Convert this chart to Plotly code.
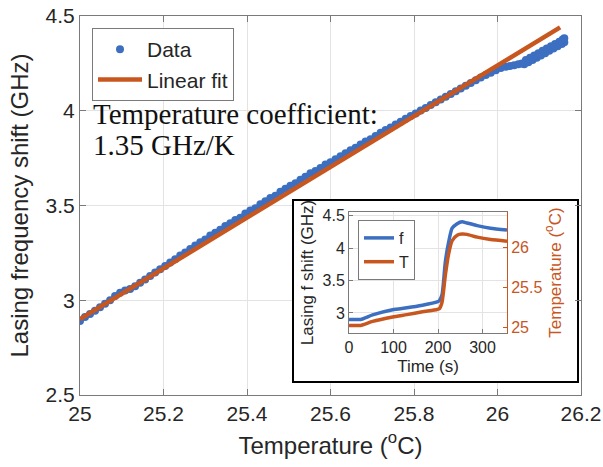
import plotly.graph_objects as go

# ---------------- data ----------------
temp_C = [25.000, 25.012, 25.024, 25.036, 25.048, 25.060, 25.072, 25.084, 25.096, 25.108,
          25.120, 25.132, 25.144, 25.156, 25.168, 25.180, 25.192, 25.204, 25.216, 25.228,
          25.240, 25.252, 25.264, 25.276, 25.288, 25.300, 25.312, 25.324, 25.336, 25.348,
          25.360, 25.372, 25.384, 25.396, 25.408, 25.420, 25.432, 25.444, 25.456, 25.468,
          25.480, 25.492, 25.504, 25.516, 25.528, 25.540, 25.552, 25.564, 25.576, 25.588,
          25.600, 25.612, 25.624, 25.636, 25.648, 25.660, 25.672, 25.684, 25.696, 25.708,
          25.720, 25.732, 25.744, 25.756, 25.768, 25.780, 25.792, 25.804, 25.816, 25.828,
          25.840, 25.852, 25.864, 25.876, 25.888, 25.900, 25.912, 25.924, 25.936, 25.948,
          25.960, 25.972, 25.984, 25.996, 26.008,
          26.020, 26.030, 26.040, 26.050, 26.058,
          26.064, 26.074, 26.084, 26.094, 26.104, 26.114, 26.124, 26.134, 26.144, 26.154, 26.160,
          26.068, 26.078, 26.088, 26.098, 26.108, 26.118, 26.128, 26.138, 26.148, 26.156, 26.160]
shift_GHz = [2.890, 2.911, 2.928, 2.945, 2.963, 2.982, 3.000, 3.022, 3.040, 3.052,
             3.060, 3.074, 3.092, 3.110, 3.128, 3.146, 3.163, 3.181, 3.199, 3.217,
             3.236, 3.252, 3.270, 3.289, 3.306, 3.320, 3.342, 3.356, 3.372, 3.392,
             3.406, 3.424, 3.436, 3.458, 3.474, 3.486, 3.506, 3.522, 3.540, 3.552,
             3.572, 3.588, 3.604, 3.618, 3.636, 3.652, 3.670, 3.682, 3.698, 3.716,
             3.728, 3.744, 3.760, 3.776, 3.792, 3.805, 3.822, 3.838, 3.850, 3.867,
             3.884, 3.898, 3.912, 3.928, 3.942, 3.958, 3.972, 3.986, 4.001, 4.015,
             4.030, 4.045, 4.060, 4.074, 4.088, 4.103, 4.118, 4.132, 4.147, 4.161,
             4.175, 4.188, 4.201, 4.214, 4.225,
             4.232, 4.236, 4.240, 4.246, 4.250,
             4.245, 4.256, 4.268, 4.280, 4.292, 4.304, 4.316, 4.328, 4.340, 4.352, 4.362,
             4.268, 4.280, 4.292, 4.304, 4.316, 4.328, 4.340, 4.352, 4.364, 4.376, 4.382]

fit_T = [25.0, 26.15]
fit_f = [2.90, 4.44]

time_s = [0, 26, 53, 98, 130, 165, 198, 203, 209, 216.5, 224, 231.7, 243, 254, 265, 288, 318, 355]
f_time = [2.90, 2.90, 2.97, 3.05, 3.08, 3.12, 3.17, 3.19, 3.28, 3.79, 4.10, 4.31, 4.38, 4.41, 4.39, 4.35, 4.31, 4.28]
T_time = [25.02, 25.02, 25.07, 25.125, 25.155, 25.19, 25.22, 25.23, 25.31, 25.65, 25.92, 26.08, 26.15, 26.165, 26.16, 26.125, 26.095, 26.075]

x_ticks = [25, 25.2, 25.4, 25.6, 25.8, 26, 26.2]
x_ticklabels = ["25", "25.2", "25.4", "25.6", "25.8", "26", "26.2"]
y_ticks = [2.5, 3, 3.5, 4, 4.5]
y_ticklabels = ["2.5", "3", "3.5", "4", "4.5"]

BLUE = "#3D6FC1"
ORANGE = "#C7561F"
AX = "#7a7a7a"
TXT = "#262626"
GRID = "#e3e3e3"

X_RANGE = [25, 26.2]
Y_RANGE = [2.5, 4.5]

fig = go.Figure()

fig.add_trace(go.Scatter(x=temp_C, y=shift_GHz, mode="markers", name="Data",
                         marker=dict(color=BLUE, size=8, line=dict(width=0)),
                         xaxis="x", yaxis="y", legend="legend"))
fig.add_trace(go.Scatter(x=fit_T, y=fit_f, mode="lines", name="Linear fit",
                         line=dict(color=ORANGE, width=4.5),
                         xaxis="x", yaxis="y", legend="legend"))

fig.add_trace(go.Scatter(x=time_s, y=f_time, mode="lines", name="f",
                         line=dict(color=BLUE, width=3.5, shape="spline", smoothing=0.6),
                         xaxis="x2", yaxis="y2", legend="legend2"))
fig.add_trace(go.Scatter(x=time_s, y=T_time, mode="lines", name="T",
                         line=dict(color=ORANGE, width=3.5, shape="spline", smoothing=0.6),
                         xaxis="x2", yaxis="y3", legend="legend2"))

W, H = 603, 467
L, R, T, B = 80, 22, 16, 72
pw, ph = W - L - R, H - T - B

def px_x(p):
    return (p - L) / pw

def px_y(p):
    return (H - B - p) / ph

def dx(p):
    return X_RANGE[0] + px_x(p) * (X_RANGE[1] - X_RANGE[0])

def dy(p):
    return Y_RANGE[0] + px_y(p) * (Y_RANGE[1] - Y_RANGE[0])

fig.update_layout(
    width=W, height=H,
    margin=dict(l=L, r=R, t=T, b=B, pad=0, autoexpand=False),
    paper_bgcolor="white", plot_bgcolor="white",
    font=dict(family="Liberation Sans, Arial", color=TXT, size=21),
    xaxis=dict(domain=[0, 1], range=X_RANGE, tickvals=x_ticks, ticktext=x_ticklabels,
               showgrid=True, gridcolor=GRID, zeroline=False, automargin=False,
               showline=True, linecolor=AX, linewidth=1, mirror="ticks",
               ticks="inside", ticklen=6, tickcolor=AX, tickfont=dict(size=21, color=TXT),
               title=dict(text="Temperature (<sup>o</sup>C)", font=dict(size=24, color=TXT), standoff=12)),
    yaxis=dict(domain=[0, 1], range=Y_RANGE, tickvals=y_ticks, ticktext=y_ticklabels,
               showgrid=True, gridcolor=GRID, zeroline=False, automargin=False,
               showline=True, linecolor=AX, linewidth=1, mirror="ticks",
               ticks="inside", ticklen=6, tickcolor=AX, tickfont=dict(size=21, color=TXT),
               title=dict(text="Lasing frequency shift (GHz)", font=dict(size=24, color=TXT), standoff=10)),
    xaxis2=dict(domain=[px_x(349), px_x(507)], range=[0, 355], anchor="y2",
                tickvals=[0, 100, 200, 300], showgrid=True, gridcolor=GRID, zeroline=False,
                automargin=False,
                showline=True, linecolor=AX, linewidth=1, mirror=True,
                ticks="inside", ticklen=4, tickcolor=AX, tickfont=dict(size=16, color=TXT),
                title=dict(text="Time (s)", font=dict(size=17, color=TXT), standoff=4)),
    yaxis2=dict(domain=[px_y(333), px_y(212)], range=[2.69, 4.56], anchor="x2",
                tickvals=[3, 3.5, 4, 4.5], ticktext=["3", "3.5", "4", "4.5"],
                showgrid=True, gridcolor=GRID, zeroline=False, automargin=False,
                showline=True, linecolor=AX, linewidth=1,
                ticks="inside", ticklen=4, tickcolor=AX, tickfont=dict(size=16, color=TXT),
                title=dict(text="Lasing f shift (GHz)", font=dict(size=17, color=TXT), standoff=4)),
    yaxis3=dict(domain=[px_y(333), px_y(212)], range=[24.925, 26.44], anchor="x2",
                overlaying="y2", side="right", automargin=False,
                tickvals=[25, 25.5, 26], ticktext=["25", "25.5", "26"],
                showgrid=False, zeroline=False,
                showline=True, linecolor=ORANGE, linewidth=1,
                ticks="inside", ticklen=4, tickcolor=ORANGE, tickfont=dict(size=16, color=ORANGE),
                title=dict(text="Temperature (<sup>o</sup>C)", font=dict(size=17, color=ORANGE), standoff=4)),
    legend=dict(x=px_x(92), y=px_y(28), xanchor="left", yanchor="top",
                bgcolor="white", bordercolor=AX, borderwidth=1,
                font=dict(size=21, color=TXT), itemwidth=44, tracegroupgap=0),
    legend2=dict(x=px_x(358), y=px_y(220), xanchor="left", yanchor="top",
                 bgcolor="white", bordercolor=AX, borderwidth=1,
                 font=dict(size=16, color=TXT), itemwidth=30, tracegroupgap=0),
    showlegend=True,
)

# inset frame (white box with black border), drawn above main grid, below inset
fig.add_shape(type="rect", xref="x", yref="y",
              x0=dx(293), x1=dx(578), y0=dy(382), y1=dy(200),
              fillcolor="white", line=dict(color="black", width=2), layer="between")

fig.add_annotation(text="Temperature coefficient:", xref="paper", yref="paper",
                   x=px_x(91), y=px_y(114), xanchor="left", yanchor="middle",
                   showarrow=False, font=dict(family="Liberation Serif, Times New Roman", size=29, color="#111111"))
fig.add_annotation(text="1.35 GHz/K", xref="paper", yref="paper",
                   x=px_x(91), y=px_y(145), xanchor="left", yanchor="middle",
                   showarrow=False, font=dict(family="Liberation Serif, Times New Roman", size=29, color="#111111"))

fig.write_html("out.html")
